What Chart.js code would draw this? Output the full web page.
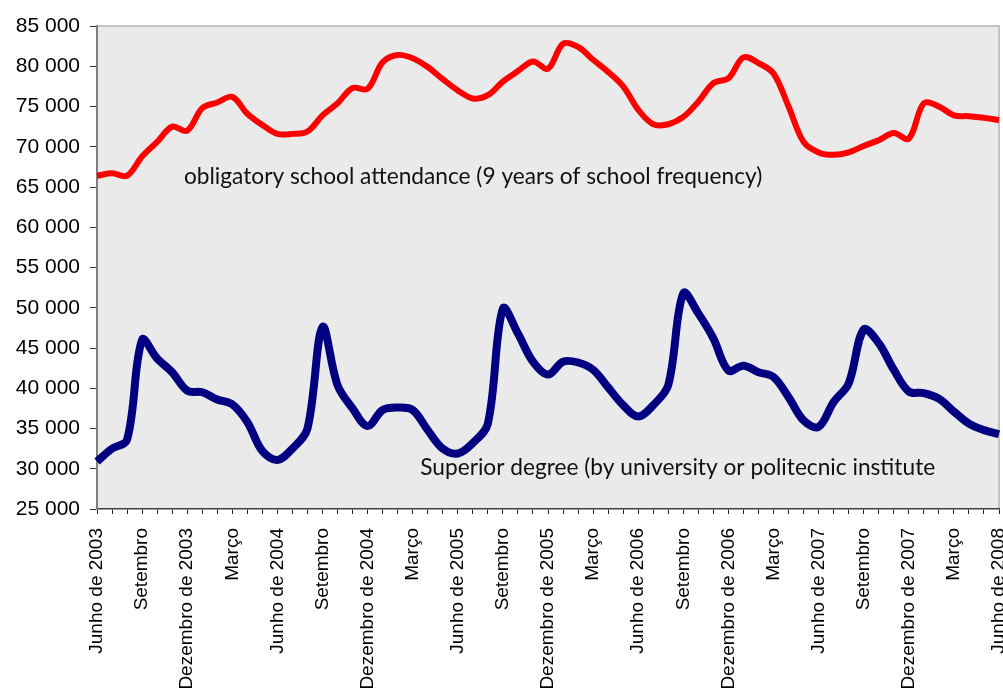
<!DOCTYPE html>
<html>
<head>
<meta charset="utf-8">
<script src="https://cdn.jsdelivr.net/npm/chart.js@4/dist/chart.umd.min.js"></script>
<style>
  html, body { margin: 0; padding: 0; background: #fff; }
  #wrap { width: 1003px; height: 689px; }
</style>
</head>
<body>
<div id="wrap"><canvas id="c" width="1003" height="689"></canvas></div>
<script>
// Quarterly tick labels (one every three months)
const tickLabels = ['Junho de 2003', 'Setembro', 'Dezembro de 2003', 'Março',
  'Junho de 2004', 'Setembro', 'Dezembro de 2004', 'Março',
  'Junho de 2005', 'Setembro', 'Dezembro de 2005', 'Março',
  'Junho de 2006', 'Setembro', 'Dezembro de 2006', 'Março',
  'Junho de 2007', 'Setembro', 'Dezembro de 2007', 'Março',
  'Junho de 2008'];

// Monthly values, June 2003 – June 2008
const obligatory = [66400, 66700, 66400, 68800, 70600, 72500, 72000, 74800, 75500, 76200,
  74100, 72700, 71600, 71600, 71900, 73900, 75400, 77300, 77200, 80500,
  81400, 81000, 79900, 78400, 77000, 76000, 76400, 78100, 79400, 80600,
  79700, 82800, 82400, 80800, 79300, 77500, 74600, 72800, 72800, 73700,
  75600, 77900, 78500, 81100, 80400, 79100, 75000, 70600, 69300, 69000,
  69300, 70100, 70800, 71700, 71000, 75400, 75000, 73900, 73800, 73600,
  73300];

const superior = [30900, 32500, 33600, 46000, 43700, 42000, 39700, 39500, 38600, 38000,
  35800, 32200, 31100, 32500, 35000, 47600, 40400, 37500, 35300, 37300,
  37600, 37300, 34800, 32500, 31900, 33200, 35600, 49900, 46800, 43300,
  41700, 43300, 43200, 42300, 40100, 37900, 36500, 37900, 40400, 51800,
  49300, 46200, 42200, 42800, 42000, 41400, 38900, 36000, 35200, 38300,
  40600, 47300, 45600, 42300, 39600, 39400, 38700, 37100, 35600, 34800,
  34300];

const seriesNames = ['obligatory school attendance (9 years of school frequency)',
  'Superior degree (by university or politecnic institute'];

// One category per month; only every third month carries a label
const months = obligatory.map((_, i) => (i % 3 === 0 ? tickLabels[i / 3] : ''));

const fmt = v => String(v).replace(/\B(?=(\d{3})+(?!\d))/g, ' ');

// Grey plot area with a light frame on top and right
const plotBackground = {
  id: 'plotBackground',
  beforeDraw(chart) {
    const { ctx, chartArea: a } = chart;
    ctx.save();
    ctx.fillStyle = '#EAEAEA';
    ctx.fillRect(a.left, a.top, a.right - a.left, a.bottom - a.top);
    ctx.strokeStyle = '#C4C4C4';
    ctx.lineWidth = 2;
    ctx.beginPath();
    ctx.moveTo(a.left, a.top);
    ctx.lineTo(a.right, a.top);
    ctx.lineTo(a.right, a.bottom);
    ctx.stroke();
    ctx.restore();
  }
};

// Series names written inside the plot, next to each curve
const seriesCaptions = {
  id: 'seriesCaptions',
  afterDatasetsDraw(chart) {
    const { ctx } = chart;
    const x = chart.scales.x, y = chart.scales.y;
    const spots = [
      { text: seriesNames[0], at: 5.78, v: 66300 },
      { text: seriesNames[1], at: 21.5, v: 30100 }
    ];
    ctx.save();
    ctx.fillStyle = '#111';
    ctx.font = '22.7px Lato, "Open Sans", sans-serif';
    ctx.textAlign = 'left';
    ctx.textBaseline = 'middle';
    spots.forEach(s => ctx.fillText(s.text, x.getPixelForValue(s.at), y.getPixelForValue(s.v)));
    ctx.restore();
  }
};

new Chart(document.getElementById('c'), {
  type: 'line',
  data: {
    labels: months,
    datasets: [
      { label: seriesNames[0], data: obligatory, borderColor: '#FF0000', borderWidth: 6,
        pointRadius: 0, tension: 0.35, fill: false },
      { label: seriesNames[1], data: superior, borderColor: '#000080', borderWidth: 8,
        pointRadius: 0, tension: 0.35, fill: false }
    ]
  },
  options: {
    responsive: false,
    animation: false,
    devicePixelRatio: 1,
    layout: { padding: { left: 0, right: 4, top: 26, bottom: 0 } },
    plugins: { legend: { display: false }, tooltip: { enabled: false } },
    scales: {
      x: {
        type: 'category',
        offset: false,
        border: { color: '#404040', width: 1.5 },
        grid: { drawOnChartArea: false, tickLength: 5, color: '#222', lineWidth: 1 },
        ticks: {
          autoSkip: false, maxRotation: 90, minRotation: 90, padding: 14,
          color: '#000', font: { family: '"Liberation Sans", Arial, sans-serif', size: 19 }
        },
        afterFit(s) { s.paddingLeft = 0; s.paddingRight = 0; s.height = 180; }
      },
      y: {
        min: 25000, max: 85000,
        border: { color: '#7F7F7F', width: 2 },
        grid: { drawOnChartArea: false, tickLength: 7, color: '#333', lineWidth: 1 },
        ticks: {
          stepSize: 5000, padding: 10, color: '#000',
          font: { family: '"Liberation Sans", Arial, sans-serif', size: 21 },
          callback: v => fmt(v)
        },
        afterFit(s) { s.width = 97; s.paddingTop = 0; s.paddingBottom = 0; }
      }
    }
  },
  plugins: [plotBackground, seriesCaptions]
});
</script>
</body>
</html>
